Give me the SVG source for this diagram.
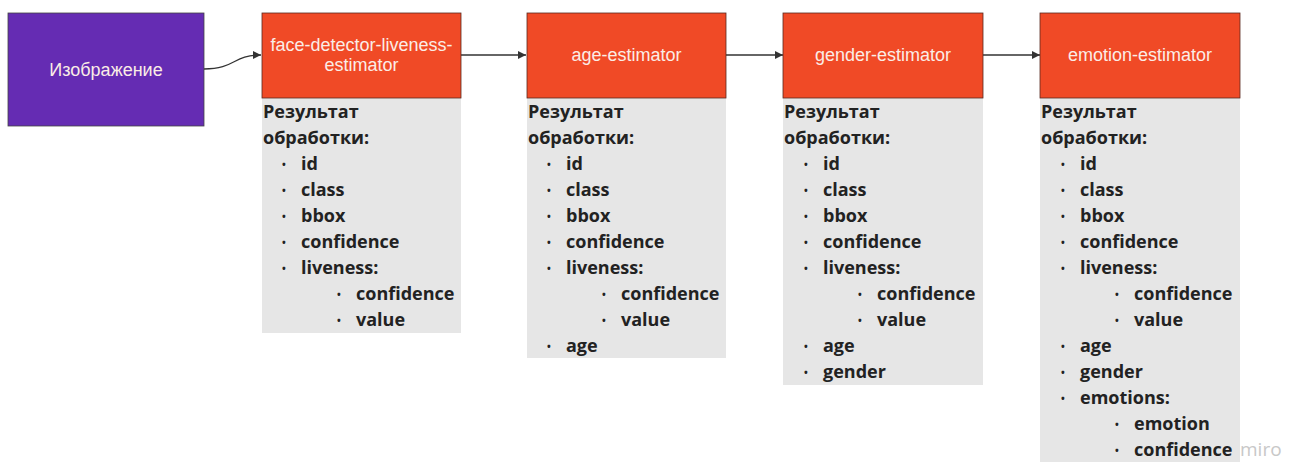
<svg xmlns="http://www.w3.org/2000/svg" width="1290" height="462" viewBox="0 0 1290 462">
<defs>
<style>
.hdr{fill:#F04A26;stroke:#5a2a20;stroke-width:0.8}
.body{fill:#E6E6E6}
.ht{font-family:"Liberation Sans",Arial,sans-serif;font-size:18px;fill:#FBEDE6;text-anchor:middle}
.bt{font-family:"Open Sans","Noto Sans",sans-serif;font-weight:bold;font-size:18px;fill:#222}
.b{font-size:10px}
.conn{fill:none;stroke:#333;stroke-width:1.3}
</style>
<marker id="ah" viewBox="0 0 10 10" refX="10" refY="5" markerWidth="8" markerHeight="8" markerUnits="userSpaceOnUse" orient="auto">
<path d="M0,0 L10,5 L0,10 z" fill="#333"/>
</marker>
</defs>
<rect width="1290" height="462" fill="#fff"/>
<g id="connectors">
<path class="conn" d="M204,69 C236,69 232,55 261,55" marker-end="url(#ah)"/>
<path class="conn" d="M461,55 L526,55" marker-end="url(#ah)"/>
<path class="conn" d="M726,55 L783,55" marker-end="url(#ah)"/>
<path class="conn" d="M983,55 L1040,55" marker-end="url(#ah)"/>
</g>
<g id="image">
<rect x="8" y="13" width="196" height="113" fill="#652CB3" stroke="#444" stroke-width="0.8"/>
<text class="ht" x="106" y="76">Изображение</text>
</g>
<g id="face-detector">
<rect class="body" x="262" y="98" width="199" height="235"/>
<rect class="hdr" x="262" y="13" width="199" height="85"/>
<text class="ht" x="361.5" y="51">face-detector-liveness-</text>
<text class="ht" x="361.5" y="71">estimator</text>
<text class="bt">
<tspan x="263" y="118">Результат</tspan>
<tspan x="263" y="144">обработки:</tspan>
<tspan class="b" x="282" y="168">•</tspan><tspan x="301" y="170">id</tspan>
<tspan class="b" x="282" y="194">•</tspan><tspan x="301" y="196">class</tspan>
<tspan class="b" x="282" y="220">•</tspan><tspan x="301" y="222">bbox</tspan>
<tspan class="b" x="282" y="246">•</tspan><tspan x="301" y="248">confidence</tspan>
<tspan class="b" x="282" y="272">•</tspan><tspan x="301" y="274">liveness:</tspan>
<tspan class="b" x="337" y="298">•</tspan><tspan x="356" y="300">confidence</tspan>
<tspan class="b" x="337" y="324">•</tspan><tspan x="356" y="326">value</tspan>
</text>
</g>
<g id="age-estimator">
<rect class="body" x="527" y="98" width="199" height="260"/>
<rect class="hdr" x="527" y="13" width="199" height="85"/>
<text class="ht" x="626.5" y="61">age-estimator</text>
<text class="bt">
<tspan x="528" y="118">Результат</tspan>
<tspan x="528" y="144">обработки:</tspan>
<tspan class="b" x="547" y="168">•</tspan><tspan x="566" y="170">id</tspan>
<tspan class="b" x="547" y="194">•</tspan><tspan x="566" y="196">class</tspan>
<tspan class="b" x="547" y="220">•</tspan><tspan x="566" y="222">bbox</tspan>
<tspan class="b" x="547" y="246">•</tspan><tspan x="566" y="248">confidence</tspan>
<tspan class="b" x="547" y="272">•</tspan><tspan x="566" y="274">liveness:</tspan>
<tspan class="b" x="602" y="298">•</tspan><tspan x="621" y="300">confidence</tspan>
<tspan class="b" x="602" y="324">•</tspan><tspan x="621" y="326">value</tspan>
<tspan class="b" x="547" y="350">•</tspan><tspan x="566" y="352">age</tspan>
</text>
</g>
<g id="gender-estimator">
<rect class="body" x="783" y="98" width="200" height="287"/>
<rect class="hdr" x="783" y="13" width="200" height="85"/>
<text class="ht" x="883" y="61">gender-estimator</text>
<text class="bt">
<tspan x="784" y="118">Результат</tspan>
<tspan x="784" y="144">обработки:</tspan>
<tspan class="b" x="804" y="168">•</tspan><tspan x="823" y="170">id</tspan>
<tspan class="b" x="804" y="194">•</tspan><tspan x="823" y="196">class</tspan>
<tspan class="b" x="804" y="220">•</tspan><tspan x="823" y="222">bbox</tspan>
<tspan class="b" x="804" y="246">•</tspan><tspan x="823" y="248">confidence</tspan>
<tspan class="b" x="804" y="272">•</tspan><tspan x="823" y="274">liveness:</tspan>
<tspan class="b" x="858" y="298">•</tspan><tspan x="877" y="300">confidence</tspan>
<tspan class="b" x="858" y="324">•</tspan><tspan x="877" y="326">value</tspan>
<tspan class="b" x="804" y="350">•</tspan><tspan x="823" y="352">age</tspan>
<tspan class="b" x="804" y="376">•</tspan><tspan x="823" y="378">gender</tspan>
</text>
</g>
<g id="emotion-estimator">
<rect class="body" x="1040" y="98" width="200" height="364"/>
<rect class="hdr" x="1040" y="13" width="200" height="85"/>
<text class="ht" x="1140" y="61">emotion-estimator</text>
<text class="bt">
<tspan x="1041" y="118">Результат</tspan>
<tspan x="1041" y="144">обработки:</tspan>
<tspan class="b" x="1061" y="168">•</tspan><tspan x="1080" y="170">id</tspan>
<tspan class="b" x="1061" y="194">•</tspan><tspan x="1080" y="196">class</tspan>
<tspan class="b" x="1061" y="220">•</tspan><tspan x="1080" y="222">bbox</tspan>
<tspan class="b" x="1061" y="246">•</tspan><tspan x="1080" y="248">confidence</tspan>
<tspan class="b" x="1061" y="272">•</tspan><tspan x="1080" y="274">liveness:</tspan>
<tspan class="b" x="1115" y="298">•</tspan><tspan x="1134" y="300">confidence</tspan>
<tspan class="b" x="1115" y="324">•</tspan><tspan x="1134" y="326">value</tspan>
<tspan class="b" x="1061" y="350">•</tspan><tspan x="1080" y="352">age</tspan>
<tspan class="b" x="1061" y="376">•</tspan><tspan x="1080" y="378">gender</tspan>
<tspan class="b" x="1061" y="402">•</tspan><tspan x="1080" y="404">emotions:</tspan>
<tspan class="b" x="1115" y="428">•</tspan><tspan x="1134" y="430">emotion</tspan>
<tspan class="b" x="1115" y="454">•</tspan><tspan x="1134" y="456">confidence</tspan>
</text>
</g>
<text x="1240" y="456" font-family="Open Sans,sans-serif" font-size="19" fill="#C8C8C8">miro</text>
</svg>
